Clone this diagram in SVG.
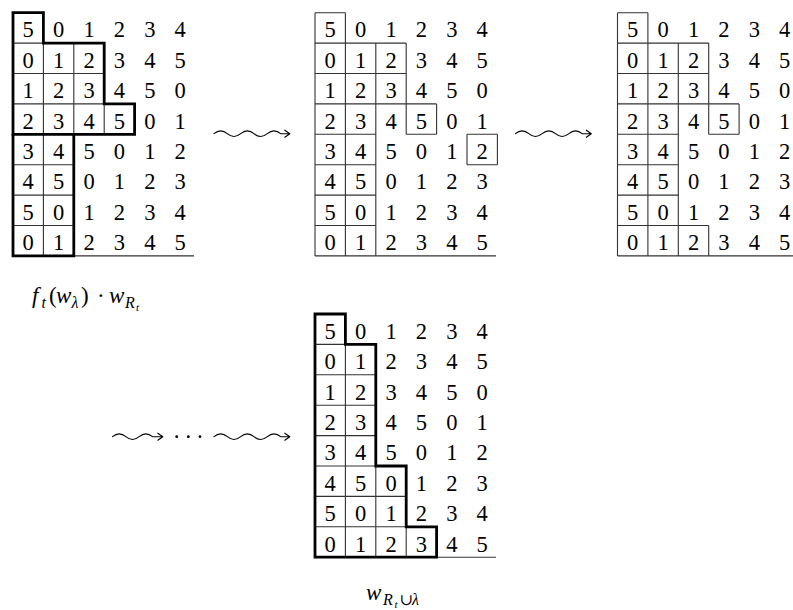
<svg xmlns="http://www.w3.org/2000/svg" xmlns:xlink="http://www.w3.org/1999/xlink" width="793" height="610" viewBox="0 0 793 610">
<style>
.d{font-family:"Liberation Serif","DejaVu Serif",serif;font-size:22.5px;text-anchor:middle;fill:#000}
.thin{stroke:#333;stroke-width:1.1;fill:none}
.thick{stroke:#000;stroke-width:2.8;fill:none;stroke-linejoin:miter}
.sq{stroke:#000;stroke-width:1.1;fill:none;stroke-linecap:round;stroke-linejoin:round}
.lab{font-family:"Liberation Serif","DejaVu Serif",serif;fill:#000}
.it{font-style:italic}
</style>
<defs>
<path id="sqlong" class="sq" d="M0,0 C4.8,-4 8.53,-4 13.33,0 C18.13,4 21.87,4 26.67,0 C31.47,-4 35.2,-4 40,0 C44.8,4 48.53,4 53.33,0 C58.13,-4 61.87,-4 66.67,0 L75.5,0 M70.8,-3.5 L75.8,0 L70.8,3.5"/>
<path id="sqshort" class="sq" d="M0,0 C4.8,-4 8.53,-4 13.33,0 C18.13,4 21.87,4 26.67,0 C31.47,-4 35.2,-4 40,0 L50,0 M45.3,-3.5 L50.3,0 L45.3,3.5"/>
</defs>

<g id="grid-start" transform="translate(13,12.7)">
<text class="d" x="15.2 45.6 76 106.4 136.8 167.2" y="24.8">501234</text>
<text class="d" x="15.2 45.6 76 106.4 136.8 167.2" y="55.2">012345</text>
<text class="d" x="15.2 45.6 76 106.4 136.8 167.2" y="85.6">123450</text>
<text class="d" x="15.2 45.6 76 106.4 136.8 167.2" y="116">234501</text>
<text class="d" x="15.2 45.6 76 106.4 136.8 167.2" y="146.4">345012</text>
<text class="d" x="15.2 45.6 76 106.4 136.8 167.2" y="176.8">450123</text>
<text class="d" x="15.2 45.6 76 106.4 136.8 167.2" y="207.2">501234</text>
<text class="d" x="15.2 45.6 76 106.4 136.8 167.2" y="237.6">012345</text>
<path class="thin" d="M30.4,30.4V243.2M60.8,30.4V121.6M91.2,91.2V121.6M0,30.4H30.4M0,60.8H91.2M0,91.2H91.2M0,152H60.8M0,182.4H60.8M0,212.8H60.8M60.8,243.2H181"/>
<path class="thick" d="M0,121.6V0H30.4V30.4H91.2V91.2H121.6V121.6Z"/>
<path class="thick" d="M0,121.6V243.2H60.8V121.6"/>
</g>

<g id="grid-step1" transform="translate(315,12.7)">
<text class="d" x="15.2 45.6 76 106.4 136.8 167.2" y="24.8">501234</text>
<text class="d" x="15.2 45.6 76 106.4 136.8 167.2" y="55.2">012345</text>
<text class="d" x="15.2 45.6 76 106.4 136.8 167.2" y="85.6">123450</text>
<text class="d" x="15.2 45.6 76 106.4 136.8 167.2" y="116">234501</text>
<text class="d" x="15.2 45.6 76 106.4 136.8 167.2" y="146.4">345012</text>
<text class="d" x="15.2 45.6 76 106.4 136.8 167.2" y="176.8">450123</text>
<text class="d" x="15.2 45.6 76 106.4 136.8 167.2" y="207.2">501234</text>
<text class="d" x="15.2 45.6 76 106.4 136.8 167.2" y="237.6">012345</text>
<path class="thin" d="M0,0V243.2M30.4,0V243.2M60.8,30.4V243.2M91.2,30.4V121.6M121.6,91.2V121.6M152,121.6V152M182.4,121.6V152M0,0H30.4M0,30.4H91.2M0,60.8H91.2M0,91.2H121.6M0,121.6H60.8M91.2,121.6H121.6M152,121.6H182.4M152,152H182.4M0,152H60.8M0,182.4H60.8M0,212.8H60.8M0,243.2H181"/>
</g>

<g id="grid-step2" transform="translate(617.5,12.7)">
<text class="d" x="15.2 45.6 76 106.4 136.8 167.2" y="24.8">501234</text>
<text class="d" x="15.2 45.6 76 106.4 136.8 167.2" y="55.2">012345</text>
<text class="d" x="15.2 45.6 76 106.4 136.8 167.2" y="85.6">123450</text>
<text class="d" x="15.2 45.6 76 106.4 136.8 167.2" y="116">234501</text>
<text class="d" x="15.2 45.6 76 106.4 136.8 167.2" y="146.4">345012</text>
<text class="d" x="15.2 45.6 76 106.4 136.8 167.2" y="176.8">450123</text>
<text class="d" x="15.2 45.6 76 106.4 136.8 167.2" y="207.2">501234</text>
<text class="d" x="15.2 45.6 76 106.4 136.8 167.2" y="237.6">012345</text>
<path class="thin" d="M0,0V243.2M30.4,0V243.2M60.8,30.4V243.2M91.2,30.4V121.6M121.6,91.2V121.6M91.2,212.8V243.2M0,0H30.4M0,30.4H91.2M0,60.8H91.2M0,91.2H121.6M0,121.6H60.8M91.2,121.6H121.6M0,152H60.8M0,182.4H60.8M0,212.8H91.2M0,243.2H181"/>
</g>

<g id="grid-final" transform="translate(315,314)">
<text class="d" x="15.2 45.6 76 106.4 136.8 167.2" y="24.8">501234</text>
<text class="d" x="15.2 45.6 76 106.4 136.8 167.2" y="55.2">012345</text>
<text class="d" x="15.2 45.6 76 106.4 136.8 167.2" y="85.6">123450</text>
<text class="d" x="15.2 45.6 76 106.4 136.8 167.2" y="116">234501</text>
<text class="d" x="15.2 45.6 76 106.4 136.8 167.2" y="146.4">345012</text>
<text class="d" x="15.2 45.6 76 106.4 136.8 167.2" y="176.8">450123</text>
<text class="d" x="15.2 45.6 76 106.4 136.8 167.2" y="207.2">501234</text>
<text class="d" x="15.2 45.6 76 106.4 136.8 167.2" y="237.6">012345</text>
<path class="thin" d="M30.4,30.4V243.2M60.8,152V243.2M91.2,212.8V243.2M0,30.4H30.4M0,60.8H60.8M0,91.2H60.8M0,121.6H60.8M0,152H60.8M0,182.4H91.2M0,212.8H91.2M121.6,243.2H181"/>
<path class="thick" d="M0,0H30.4V30.4H60.8V152H91.2V212.8H121.6V243.2H0Z"/>
</g>

<g id="label-start">
<text class="lab" y="303"><tspan class="it" x="32" font-size="23">f</tspan><tspan class="it" x="41.5" y="307.5" font-size="16">t</tspan><tspan x="49" y="303" font-size="23">(</tspan><tspan class="it" x="56" font-size="23">w</tspan><tspan class="it" x="71.5" y="307.5" font-size="16">λ</tspan><tspan x="81" y="303" font-size="23">)</tspan><tspan x="97" font-size="23">·</tspan><tspan class="it" x="109" font-size="23">w</tspan><tspan class="it" x="125" y="307.5" font-size="16">R</tspan><tspan class="it" x="136" y="310.5" font-size="11">t</tspan></text>
</g>

<g id="label-final">
<text class="lab" y="600"><tspan class="it" x="366" font-size="23">w</tspan><tspan class="it" x="383" y="604.5" font-size="16">R</tspan><tspan class="it" x="394.5" y="607.5" font-size="11">t</tspan><tspan x="399.5" y="604.5" font-size="16">∪</tspan><tspan class="it" x="412" y="604.5" font-size="16">λ</tspan></text>
</g>

<g id="connectors">
<use xlink:href="#sqlong" x="214" y="133.7"/>
<use xlink:href="#sqlong" x="515.5" y="133.7"/>
<use xlink:href="#sqshort" x="112.5" y="436.7"/>
<circle cx="176.7" cy="436.7" r="1.4"/>
<circle cx="188.3" cy="436.7" r="1.4"/>
<circle cx="200" cy="436.7" r="1.4"/>
<use xlink:href="#sqlong" x="214" y="436.7"/>
</g>
</svg>
